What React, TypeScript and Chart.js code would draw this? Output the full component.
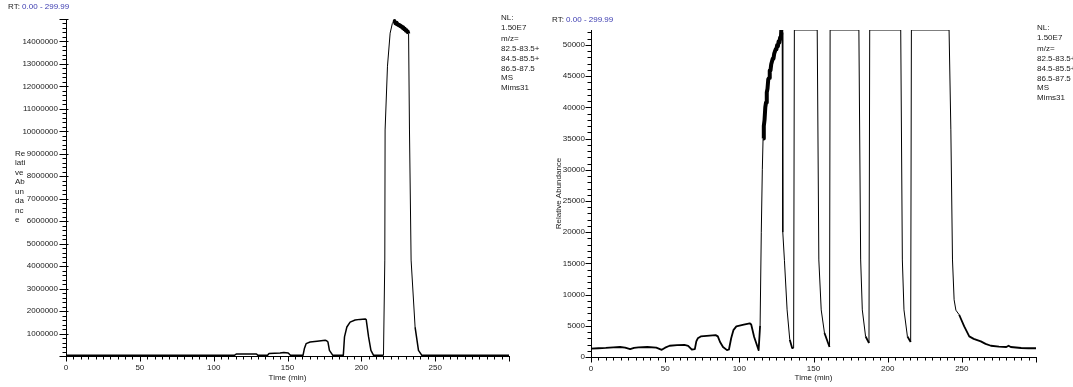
import React, { useEffect, useRef } from 'react';
import { Chart, registerables } from 'chart.js';

Chart.register(...registerables);

const FONT = "'Liberation Sans', Arial, Helvetica, sans-serif";
const TEXT = '#1a1a1a';

// ---------- data: left panel (scale 0 - 1.5E7) ----------
const leftTime = [
  0, 114, 115.5, 129, 130, 136.5, 137.5, 145, 147.5, 150.5, 152,
  160.5, 161.5, 162.6, 165.3, 170, 175.5, 176.5, 177.4, 178.4, 180.7,
  187.8, 188.6, 190.2, 192.4, 195.8, 199, 202.6, 203.3, 204.9, 206.5, 208.3,
  215, 215.9, 216.1, 217.7, 219.5, 221, 222.2,
  222.5, 223, 223.5, 224, 224.5, 225, 225.5, 226, 226.5, 227, 227.5, 228,
  228.5, 229, 229.5, 230, 230.5, 231, 231.5, 232,
  232.6, 233.7, 236.4, 238.7, 241, 300,
];
const leftIntensity = [
  30000, 30000, 90000, 90000, 30000, 30000, 110000, 130000, 160000, 130000, 30000,
  30000, 350000, 550000, 620000, 660000, 700000, 680000, 620000, 250000, 30000,
  30000, 850000, 1290000, 1510000, 1600000, 1630000, 1650000, 1620000, 850000, 250000, 30000,
  30000, 4270000, 10060000, 12900000, 14370000, 14800000, 14920000,
  14880000, 14800000, 14840000, 14760000, 14800000, 14720000, 14760000, 14680000, 14720000, 14640000, 14680000, 14590000,
  14640000, 14540000, 14580000, 14480000, 14520000, 14420000, 14460000, 14340000,
  10060000, 4270000, 1290000, 250000, 30000, 30000,
];

// ---------- data: right panel (scale 0 - 52400) ----------
const rightTime = [
  0, 5, 10, 15, 19.6, 23, 26.4, 29, 32, 38, 44, 47.7, 50, 53, 58, 63, 65.5, 68,
  70, 71, 72, 74, 78, 84, 85.5, 87, 89, 91.7, 93, 94.5, 96, 98, 103, 107, 108, 110, 112, 113,
  114, 114.8, 115.5, 116,
  116.5, 117, 117.5, 118, 118.5, 119, 119.5, 120, 120.5, 121, 121.5, 122, 122.5, 123,
  123.5, 124, 124.5, 125, 125.5, 126, 126.5, 127, 127.5, 128, 128.3, 128.9,
  129.3, 130.4, 132.2, 134, 135.6, 136.6, 137.1,
  152.5, 153.6, 155.2, 157.4, 160.8, 161.2,
  180.6, 181.8, 182.9, 185.1, 187.4, 187.9,
  208.8, 209.9, 211, 213.3, 215.5, 216,
  241.4, 242.6, 243.7, 244.8, 246, 248.2, 251.6, 255, 258, 262.8, 266, 269.6,
  275, 280, 281.5, 283, 290, 295, 300,
];
const rightIntensity = [
  1350, 1400, 1450, 1550, 1600, 1500, 1250, 1450, 1550, 1600, 1500, 1150, 1500, 1800, 1900, 1950, 1800, 1200,
  1250, 2500, 3000, 3300, 3400, 3500, 3300, 2400, 1600, 1100, 1200, 3000, 4300, 4900, 5200, 5400, 5200, 3200, 1800, 1100,
  5000, 20000, 30000, 35000,
  37000, 38000, 40000, 40800, 42400, 43000, 44500, 44700, 45900, 45900, 46900, 46900, 47800, 47800,
  48600, 48600, 49300, 49300, 50000, 49800, 50600, 50400, 51200, 51000, 52400, 52000,
  20000, 15500, 7550, 2770, 1440, 1450, 52400,
  52400, 15550, 7550, 3840, 1600, 52400,
  52400, 15550, 7550, 3300, 2240, 52400,
  52400, 15550, 7550, 3300, 2400, 52400,
  52400, 36400, 15550, 9170, 7500, 6770, 4900, 3300, 2900, 2500, 2100, 1800,
  1650, 1600, 1800, 1600, 1440, 1400, 1400,
];

// ---------- ticks / labels ----------
const xTickLabels = [0, 50, 100, 150, 200, 250];
const leftYTickLabels = [
  1000000, 2000000, 3000000, 4000000, 5000000, 6000000, 7000000,
  8000000, 9000000, 10000000, 11000000, 12000000, 13000000, 14000000,
];
const rightYTickLabels = [0, 5000, 10000, 15000, 20000, 25000, 30000, 35000, 40000, 45000, 50000];
const legendLines = ['NL:', '1.50E7', 'm/z=', '82.5-83.5+', '84.5-85.5+', '86.5-87.5', 'MS', 'Mims31'];
const leftYTitleParts = ['Re', 'lati', 've', 'Ab', 'un', 'da', 'nc', 'e'];
const rtLabel = 'RT:';
const rtRange = '0.00 - 299.99';
const xTitle = 'Time (min)';
const yTitle = 'Relative Abundance';

const tickMarks = {
  id: 'tickMarks',
  afterDraw(chart: any, _args: any, opts: any) {
    const { ctx, chartArea, scales } = chart;
    const x = scales.x;
    const y = scales.y;
    ctx.save();
    ctx.strokeStyle = '#000';
    ctx.lineWidth = 1;
    ctx.beginPath();
    const left = Math.round(chartArea.left) + 0.5;
    const bottom = Math.round(chartArea.bottom) + 0.5;
    for (let v = 0; v <= opts.yMax + 1e-6; v += opts.yMinor) {
      const py = Math.round(y.getPixelForValue(v)) + 0.5;
      const isMajor = Math.abs(v / opts.yMajor - Math.round(v / opts.yMajor)) < 1e-6;
      ctx.moveTo(left - (isMajor ? opts.yMajorLen : 4), py);
      ctx.lineTo(left + (isMajor ? opts.yMajorRight : 0), py);
    }
    for (let v = 0; v <= 300 + 1e-6; v += 5) {
      const px = Math.round(x.getPixelForValue(v)) + 0.5;
      const isMajor = v % 50 === 0;
      ctx.moveTo(px, bottom);
      ctx.lineTo(px, bottom + (isMajor ? 5 : 3));
    }
    ctx.stroke();
    ctx.restore();
  },
};

function makeChart(canvas: HTMLCanvasElement, spec: any) {
  const segWidth = (c: any) => {
    const t0 = c.p0.parsed.x;
    const t1 = c.p1.parsed.x;
    if (t0 >= spec.noisy[0] && t1 <= spec.noisy[1]) return spec.noisyWidth;
    if (c.p0.parsed.y < spec.thickBelow && c.p1.parsed.y < spec.thickBelow) return spec.thickWidth;
    return 1;
  };
  return new Chart(canvas, {
    type: 'line',
    data: {
      datasets: [
        {
          data: spec.time.map((t: number, i: number) => ({ x: t, y: spec.values[i] })),
          borderColor: '#000',
          borderWidth: 1,
          pointRadius: 0,
          tension: 0,
          fill: false,
          borderJoinStyle: 'round',
          segment: { borderWidth: segWidth },
        },
      ],
    },
    options: {
      responsive: false,
      animation: false,
      events: [],
      layout: { padding: spec.padding },
      plugins: {
        legend: { display: false },
        tooltip: { enabled: false },
        tickMarks: spec.tickOpts,
      } as any,
      scales: {
        x: {
          type: 'linear',
          min: 0,
          max: 300,
          grid: { display: false, drawTicks: false },
          border: { display: true, color: '#000', width: 1 },
          ticks: {
            font: { family: FONT, size: 8 },
            color: TEXT,
            padding: 7,
            maxRotation: 0,
            autoSkip: false,
            callback: (v: any) => String(v),
          },
          afterBuildTicks: (s: any) => {
            s.ticks = xTickLabels.map((v) => ({ value: v }));
          },
          afterFit: (s: any) => {
            s.height = spec.xHeight;
          },
          title: {
            display: true,
            text: xTitle,
            font: { family: FONT, size: 8 },
            color: TEXT,
            padding: { top: 0, bottom: 4 },
          },
        },
        y: {
          type: 'linear',
          min: 0,
          max: spec.yMax,
          grid: { display: false, drawTicks: false },
          border: { display: true, color: '#000', width: 1 },
          ticks: {
            font: { family: FONT, size: 8 },
            color: TEXT,
            padding: spec.yPad,
            autoSkip: false,
            callback: (v: any) => String(v),
          },
          afterBuildTicks: (s: any) => {
            s.ticks = spec.yLabels.map((v: number) => ({ value: v }));
          },
          afterFit: (s: any) => {
            s.width = spec.yWidth;
          },
          title: spec.yTitle
            ? {
                display: true,
                text: spec.yTitle,
                font: { family: FONT, size: 8 },
                color: TEXT,
                padding: { top: spec.yTitlePad, bottom: 0 },
              }
            : { display: false },
        },
      },
    } as any,
    plugins: [tickMarks],
  });
}

const textStyle: React.CSSProperties = {
  position: 'absolute',
  fontFamily: FONT,
  fontSize: '8px',
  lineHeight: '10px',
  color: TEXT,
  whiteSpace: 'nowrap',
};

const legendOffsets = [0, 10, 21, 31, 41, 51, 60.5, 70];

function Legend({ x, y }: { x: number; y: number }) {
  return (
    <>
      {legendLines.map((l, i) => (
        <div key={i} style={{ ...textStyle, left: x, top: y + legendOffsets[i] - 5 }}>
          {l}
        </div>
      ))}
    </>
  );
}

function RT({ x, y }: { x: number; y: number }) {
  return (
    <div style={{ ...textStyle, left: x, top: y - 5 }}>
      {rtLabel} <span style={{ color: '#3b3bb0' }}>{rtRange}</span>
    </div>
  );
}

export default function App() {
  const leftRef = useRef<HTMLCanvasElement>(null);
  const rightRef = useRef<HTMLCanvasElement>(null);

  useEffect(() => {
    const c1 = makeChart(leftRef.current!, {
      time: leftTime,
      values: leftIntensity,
      yMax: 15000000,
      yLabels: leftYTickLabels,
      padding: { left: 0, top: 19, right: 27, bottom: 0 },
      yWidth: 66,
      xHeight: 31,
      yPad: 8,
      thickBelow: 2000000,
      thickWidth: 1.5,
      noisy: [222.2, 232.1],
      noisyWidth: 3.5,
      tickOpts: { yMax: 15000000, yMinor: 200000, yMajor: 1000000, yMajorLen: 7, yMajorRight: 2 },
    });
    const c2 = makeChart(rightRef.current!, {
      time: rightTime,
      values: rightIntensity,
      yMax: 52400,
      yLabels: rightYTickLabels,
      padding: { left: 0, top: 30, right: 37, bottom: 0 },
      yWidth: 55,
      xHeight: 30,
      yPad: 6,
      yTitle: yTitle,
      yTitlePad: 18,
      thickBelow: 7000,
      thickWidth: 1.8,
      noisy: [116, 128.4],
      noisyWidth: 4,
      tickOpts: { yMax: 52400, yMinor: 1000, yMajor: 5000, yMajorLen: 6, yMajorRight: 0 },
    });
    return () => {
      c1.destroy();
      c2.destroy();
    };
  }, []);

  return (
    <div
      style={{
        position: 'absolute',
        left: 0,
        top: 0,
        width: 1073,
        height: 387,
        overflow: 'hidden',
        background: '#fff',
      }}
    >
      <canvas ref={leftRef} width={536} height={387} style={{ position: 'absolute', left: 0, top: 0 }} />
      <canvas ref={rightRef} width={537} height={387} style={{ position: 'absolute', left: 536, top: 0 }} />
      <RT x={8} y={7} />
      <RT x={552} y={19.5} />
      <Legend x={501} y={17.5} />
      <Legend x={1037} y={27.5} />
      {leftYTitleParts.map((p, i) => (
        <div key={i} style={{ ...textStyle, left: 15, top: 154 + i * 9.43 - 5 }}>
          {p}
        </div>
      ))}
    </div>
  );
}
